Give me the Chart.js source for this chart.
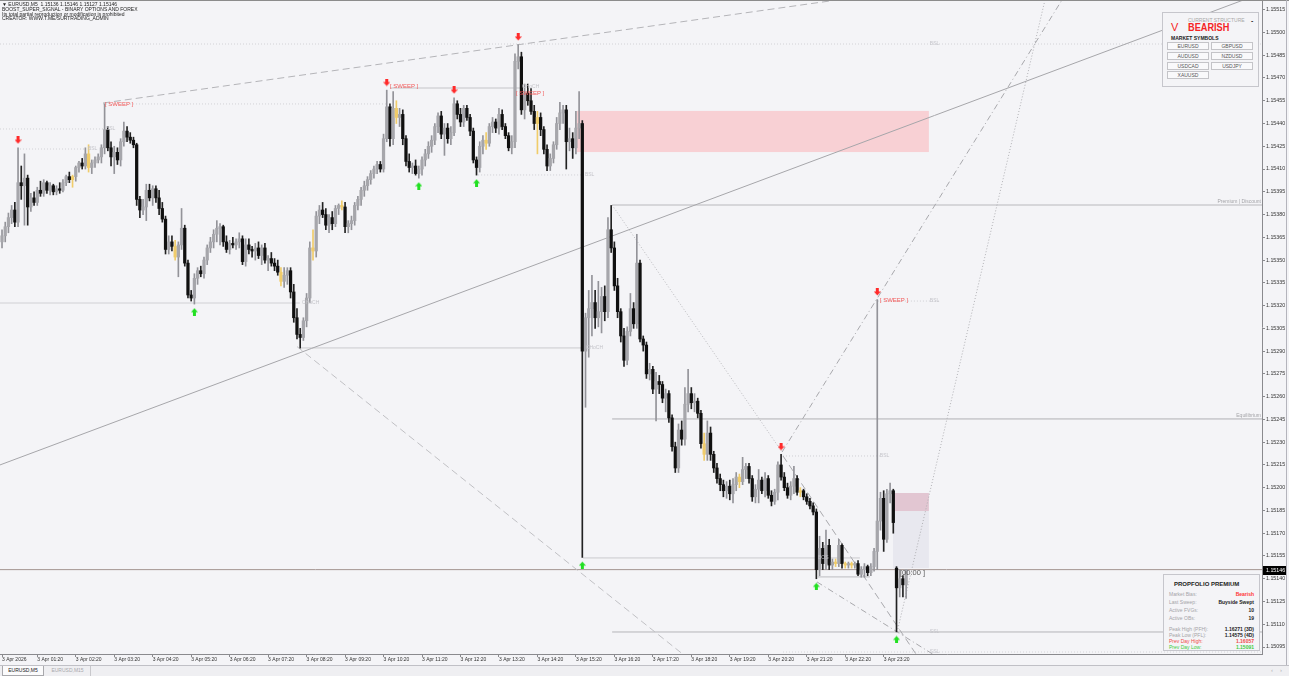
<!DOCTYPE html>
<html>
<head>
<meta charset="utf-8">
<title>EURUSD,M5</title>
<script src="https://cdn.jsdelivr.net/npm/chart.js@4.4.1/dist/chart.umd.min.js"></script>
<style>
  html, body { margin: 0; padding: 0; background: #f4f4f7; }
  #wrap { position: relative; width: 1289px; height: 676px; overflow: hidden; background: #f4f4f7; font-family: "Liberation Sans", Arial, sans-serif; }
  #chart { position: absolute; left: 0; top: 0; }
  .abs { position: absolute; white-space: nowrap; }
  #topline { left: 0; top: 0; width: 1289px; height: 1px; background: #8c8c8c; }
  #rightline { left: 1286px; top: 0; width: 1px; height: 665px; background: #b4b4bc; }
  #info { left: 2px; top: 2px; font-size: 5px; line-height: 4.8px; color: #1e1e1e; }

  #struct { left: 1162px; top: 12px; width: 95px; height: 73px; border: 1px solid #c6c6cc; background: #f4f4f7; }
  #struct .cs { left: 25px; top: 4px; font-size: 5px; color: #a8a8a8; }
  #struct .dash { left: 88px; top: 4px; font-size: 7px; font-weight: bold; color: #333; }
  #struct .v { left: 8px; top: 9px; font-size: 11px; line-height: 11px; color: #f52525; }
  #struct .bear { left: 25px; top: 9px; font-size: 11.5px; line-height: 11.5px; font-weight: bold; color: #f52525; transform: scaleX(0.8); transform-origin: left top; }
  #struct .ms { left: 8px; top: 22px; font-size: 5px; font-weight: bold; color: #222; }
  #struct .btn { width: 42px; height: 8.4px; box-sizing: border-box; border: 1px solid #c4c4c8; background: #f9f9fb; font-size: 5px; line-height: 6.4px; text-align: center; color: #555; }

  #prop { left: 1163px; top: 574px; width: 95px; height: 75px; border: 1px solid #c6c6cc; background: #f4f4f7; }
  #prop .ttl { left: 10px; top: 6px; font-size: 6px; font-weight: bold; color: #222; }
  #prop .row { left: 5px; width: 85px; height: 5px; font-size: 5px; line-height: 5px; }
  #prop .row .k { position: absolute; left: 0; top: 0; color: #a4a4a8; }
  #prop .row .val { position: absolute; right: 0; top: 0; font-weight: bold; color: #222; }

  #tabs { left: 0; top: 665px; width: 1289px; height: 11px; background: #efeff2; border-top: 1px solid #c0c0c6; }
  #tabs .tab { top: 0; height: 10px; box-sizing: border-box; font-size: 5px; line-height: 9px; text-align: center; }
  #tabs .on { left: 2px; width: 42px; border: 1px solid #a8a8ac; border-top: none; background: #fbfbfc; color: #222; }
  #tabs .off { left: 45px; width: 46px; border-right: 1px solid #c8c8cc; color: #a8a8ac; }
  #tabs .nav { top: 1px; font-size: 6px; color: #b0b0b4; }
</style>
</head>
<body>
<div id="wrap">
  <canvas id="chart" width="1289" height="676" style="width:1289px;height:676px"></canvas>
  <div class="abs" id="topline"></div>
  <div class="abs" id="rightline"></div>

  <div class="abs" id="info">▼ EURUSD,M5&nbsp; 1.15136 1.15146 1.15127 1.15146<br>BOOST_SUPER_SIGNAL - BINARY OPTIONS AND FOREX<br>Its total partial reproduction or modification is prohibited<br>CREATOR: WWW.T.ME/SURTRADING_ADMIN</div>

  <div class="abs" id="struct">
    <div class="abs cs">CURRENT STRUCTURE</div>
    <div class="abs dash">-</div>
    <div class="abs v">V</div>
    <div class="abs bear">BEARISH</div>
    <div class="abs ms">MARKET SYMBOLS</div>
    <div class="abs btn" style="left:4px;top:29px">EURUSD</div>
    <div class="abs btn" style="left:48px;top:29px">GBPUSD</div>
    <div class="abs btn" style="left:4px;top:39px">AUDUSD</div>
    <div class="abs btn" style="left:48px;top:39px">NZDUSD</div>
    <div class="abs btn" style="left:4px;top:49px">USDCAD</div>
    <div class="abs btn" style="left:48px;top:49px">USDJPY</div>
    <div class="abs btn" style="left:4px;top:58px">XAUUSD</div>
  </div>

  <div class="abs" id="prop">
    <div class="abs ttl">PROPFOLIO PREMIUM</div>
    <div class="abs row" style="top:16.5px"><span class="k">Market Bias:</span><span class="val" style="color:#ff3434">Bearish</span></div>
    <div class="abs row" style="top:25px"><span class="k">Last Sweep:</span><span class="val">Buyside Swept</span></div>
    <div class="abs row" style="top:32.5px"><span class="k">Active FVGs:</span><span class="val">10</span></div>
    <div class="abs row" style="top:40.5px"><span class="k">Active OBs:</span><span class="val">19</span></div>
    <div class="abs row" style="top:52px"><span class="k">Peak High (PFH):</span><span class="val">1.16271 (3D)</span></div>
    <div class="abs row" style="top:58px"><span class="k">Peak Low (PFL):</span><span class="val">1.14575 (4D)</span></div>
    <div class="abs row" style="top:64px"><span class="k" style="color:#f04848">Prev Day High:</span><span class="val" style="color:#f04848">1.16057</span></div>
    <div class="abs row" style="top:70px"><span class="k" style="color:#3ccc3c">Prev Day Low:</span><span class="val" style="color:#3ccc3c">1.15091</span></div>
  </div>

  <div class="abs" id="tabs">
    <div class="abs tab on">EURUSD,M5</div>
    <div class="abs tab off">EURUSD,M15</div>
    <div class="abs nav" style="left:1271px">‹</div>
    <div class="abs nav" style="left:1280px">›</div>
  </div>
</div>

<script>
// prices are kept as points above 1.15000 (1 point = 0.00001)
const BASE = 1.15, PT = 0.00001;
const toPrice = v => +(BASE + v * PT).toFixed(6);

// bar 0 = 3 Apr 00:00, one bar per 5 minutes; first visible bar is 00:25
const firstBar = 5;

// one line per hour (00:25-00:55 on the first line)
const opens = [
  362,366,372,378,383,375,401,
  399,404,385,391,388,396,394,401,396,399,395,397,
  396,401,405,403,405,411,414,412,420,411,414,416,
  418,424,436,424,418,421,416,428,435,431,429,426,
  390,383,385,396,391,397,391,384,377,357,362,359,
  352,360,371,348,327,325,338,343,341,350,358,362,
  367,371,372,362,357,361,360,362,364,349,360,357,
  356,358,353,358,350,351,348,346,342,336,340,343,
  329,312,301,299,310,325,358,356,379,383,380,373,
  378,374,384,386,385,372,374,376,386,390,396,399,
  403,407,410,413,410,430,451,430,450,444,446,430,
  415,411,412,407,410,416,420,425,429,438,445,433,
  437,430,434,453,446,441,450,444,435,416,411,425,
  429,427,438,441,437,446,438,432,424,428,481,484,
  449,460,455,448,440,444,436,423,412,417,426,440,
  447,449,428,430,424,437,440,290,312,318,322,312,
  316,326,316,370,358,333,316,300,284,303,318,308,
  348,298,294,275,278,265,270,268,259,262,246,227,
  213,238,232,255,262,256,257,249,229,222,236,222,
  213,206,202,198,201,196,202,207,204,212,214,206,
  194,199,205,198,206,195,191,197,215,207,200,195,
  201,206,197,198,194,191,188,184,146,160,150,162,
  149,151,150,162,150,149,150,149,150,143,146,148,
  144,148,158,178,193,166,196,198,147,134,140,136
];
const highs = [
  370,375,381,386,388,424,412,
  420,406,394,395,398,402,403,402,401,400,399,401,
  403,406,408,406,412,415,417,424,426,416,418,420,
  426,453,438,428,425,424,430,441,438,434,431,427,
  392,390,400,400,399,399,396,388,379,366,366,363,
  362,384,373,350,330,341,345,346,352,360,365,370,
  376,374,373,366,363,365,364,368,366,364,364,359,
  361,362,360,361,353,355,351,350,345,345,345,345,
  334,318,305,312,328,362,370,382,386,388,384,380,
  382,386,387,389,388,376,379,388,392,398,402,405,
  409,412,415,415,433,462,453,461,455,450,449,432,
  420,414,416,412,418,423,428,432,440,447,448,440,
  440,438,457,455,450,452,452,446,437,418,428,432,
  434,440,444,443,450,449,440,434,432,486,492,487,
  466,466,463,452,448,447,438,426,420,428,444,454,
  452,452,437,434,448,461,442,315,330,340,330,336,
  332,333,378,386,362,338,318,305,306,328,322,367,
  350,300,296,282,280,276,274,270,265,264,248,230,
  242,244,266,278,266,262,259,251,236,244,240,224,
  216,209,205,204,205,206,210,209,220,216,216,208,
  202,212,207,210,208,198,199,217,222,210,203,204,
  214,208,200,199,196,193,190,186,168,164,172,166,
  153,153,166,163,151,151,151,151,152,148,150,149,
  150,160,324,197,198,199,203,199,148,146,142,146
];
const lows = [
  358,362,368,374,372,372,390,
  373,373,382,386,386,392,392,394,393,393,393,394,
  395,399,401,398,402,408,410,410,408,407,411,414,
  414,420,422,412,407,413,412,425,428,427,424,386,
  378,380,376,389,386,388,380,375,354,354,356,350,
  339,357,346,325,323,321,334,339,338,347,355,358,
  362,360,359,355,354,358,357,358,347,346,354,352,
  350,351,347,348,343,346,343,340,333,332,334,325,
  309,298,292,297,306,322,350,352,374,378,370,368,
  370,372,380,383,368,368,370,373,383,386,392,396,
  400,404,407,408,408,428,425,426,440,438,426,412,
  408,407,406,404,406,412,417,421,426,434,430,419,
  427,426,432,443,438,438,442,432,414,406,408,420,
  423,425,434,434,433,436,430,422,420,424,476,446,
  443,452,446,436,420,432,420,409,409,414,423,436,
  440,410,422,417,420,430,154,253,286,300,305,306,
  302,310,312,355,330,312,296,280,281,300,305,305,
  296,290,272,271,262,244,262,256,250,243,224,210,
  210,228,228,250,252,250,246,226,218,218,218,210,
  203,198,194,193,192,190,198,200,202,206,203,191,
  190,190,196,194,193,188,189,192,205,198,193,192,
  196,195,194,192,189,186,182,140,142,146,146,146,
  146,148,148,147,147,147,147,147,142,141,141,142,
  142,145,146,172,158,164,190,170,105,128,128,127
];
const closes = [
  366,372,378,383,375,401,399,
  404,385,391,388,396,394,401,396,399,395,397,396,
  401,405,403,405,411,414,412,420,411,414,416,418,
  424,436,424,418,421,416,428,435,431,429,426,390,
  383,385,396,391,397,391,384,377,357,362,359,352,
  360,371,348,327,325,338,343,341,350,358,362,367,
  371,372,362,357,361,360,362,364,349,360,357,356,
  358,353,358,350,351,348,346,342,336,340,343,329,
  312,301,299,310,325,358,356,379,383,380,373,378,
  374,384,386,385,372,374,376,386,390,396,399,403,
  407,410,413,410,430,451,430,450,444,446,430,415,
  411,412,407,410,416,420,425,429,438,445,433,437,
  430,434,453,446,441,450,444,435,416,411,425,429,
  427,438,441,437,446,438,432,424,428,481,484,449,
  460,455,448,440,444,436,423,412,417,426,440,447,
  449,428,430,424,437,440,290,312,318,322,312,316,
  326,316,370,358,333,316,300,284,303,318,308,348,
  298,294,275,278,265,270,268,259,262,246,227,213,
  238,232,255,262,256,257,249,229,222,236,222,213,
  206,202,198,201,196,202,207,204,212,214,206,194,
  199,205,198,206,195,191,197,215,207,200,195,201,
  206,197,198,194,191,188,184,146,160,150,162,149,
  151,150,162,150,149,150,149,150,143,146,148,144,
  148,158,178,193,166,196,198,177,134,140,136,146
];
// bars the indicator paints yellow
const markedBars = [27,32,59,92,102,111,128,156,172,224,235,254,265,268,270];

// swing arrows
const swingHighBars = [10,125,146,166,248,278];
const swingLowBars = [65,135,153,186,259,284];

// time axis
const timeTickBars = [5,16,28,40,52,64,76,88,100,112,124,136,148,160,172,184,196,208,220,232,244,256,268,280];
const timeTickLabels = ['3 Apr 2026','3 Apr 01:20','3 Apr 02:20','3 Apr 03:20','3 Apr 04:20','3 Apr 05:20',
  '3 Apr 06:20','3 Apr 07:20','3 Apr 08:20','3 Apr 09:20','3 Apr 10:20','3 Apr 11:20','3 Apr 12:20',
  '3 Apr 13:20','3 Apr 14:20','3 Apr 15:20','3 Apr 16:20','3 Apr 17:20','3 Apr 18:20','3 Apr 19:20',
  '3 Apr 20:20','3 Apr 21:20','3 Apr 22:20','3 Apr 23:20'];
const priceTicks = [1.15095,1.15110,1.15125,1.15140,1.15155,1.15170,1.15185,1.15200,1.15215,1.15230,
  1.15245,1.15260,1.15275,1.15290,1.15305,1.15320,1.15335,1.15350,1.15365,1.15380,1.15395,1.15410,
  1.15425,1.15440,1.15455,1.15470,1.15485,1.15500,1.15515];
const lastPrice = 146;

// drawn objects, as [bar, points]
const trendMain = [[4.37,215],[398,526]];
const trendTop = [[36.5,453.5],[286.6,527.7]];
const trendLow = [[97,293],[219.6,86.5]];
const fallA = [[195.3,386.3],[248.3,223.5]];
const fallB = [[248.6,220.9],[291.3,86.5]];
const fallC = [[259.2,137.9],[298.2,86.5]];
const riseA = [[248.3,223.5],[335.6,521.4]];
const riseB = [[284.2,104.9],[330.3,521.4]];
const levelBSLtop = [[4.37,492.4],[398,492.4]];
const levelSweep1 = [[36.5,452.9],[125.1,452.9]];
const levelSweep2 = [[126,463.4],[166.6,463.4]];
const levelBSL1 = [[4.37,436.4],[36.5,436.4]];
const levelBSL2 = [[10.6,423.2],[30.9,423.2]];
const levelBSL3 = [[153.5,406.1],[186.2,406.1]];
const levelPremium = [[195.3,386.3],[398,386.3]];
const levelBSL4 = [[278.2,323],[297.6,323]];
const levelChoch1 = [[4.37,321.7],[97.9,321.7]];
const levelChoch2 = [[97.9,292.1],[186.2,292.1]];
const levelEquil = [[195.3,245.3],[398,245.3]];
const levelBSL5 = [[248.6,220.9],[278.8,220.9]];
const levelBos = [[186.2,153.7],[272.6,153.7]];
const levelShort = [[259.5,141.2],[275.7,141.2]];
const levelDiscount = [[195.3,104.9],[398,104.9]];
const levelSSL = [[248.6,91.7],[398,91.7]];
const levelLast = [[4.37,lastPrice],[398,lastPrice]];

// zones: bar range and price range
const zoneBars = [[184.3,294.1],[282.9,294.1],[282.9,294.1]];
const zonePrices = [[448.3,421.2],[196.5,184.6],[184.6,147]];
const zoneFill = ['#f8d0d4','#e2c6d2','#e8e8ef'];

// chart notes
const noteText = ['[ SWEEP ]','[ SWEEP ]','[ SWEEP ]','[ SWEEP ]','CHoCH','CHoCH','CHoCH',
  'BSL','BSL','BSL','BSL','BSL','BSL','SSL','SSL','BOS','[00:00 ]'];
const noteBar = [37.1,126,165.3,278.8,167.2,98.6,187.1,37.4,31.8,186.8,278.8,294.4,294.4,294.4,294.4,259.5,285.1];
const notePrice = [452.9,464.7,460.1,323.7,464.1,321.7,292.1,436.4,423.2,406.1,220.9,323,492.4,104.9,91.7,153.7,143.8];

Chart.defaults.font.family = '"Liberation Sans", Arial, sans-serif';

const bars = opens.map((_, k) => firstBar + k);
const isMarked = b => markedBars.includes(b);
const bodyColors = bars.map((b, k) => isMarked(b) ? '#f0cc6a' : closes[k] > opens[k] ? '#a6a6ab' : closes[k] < opens[k] ? '#101010' : '#777');
const wickColors = bars.map((b, k) => isMarked(b) ? '#f0cc6a' : closes[k] >= opens[k] ? '#939399' : '#222');

function makeArrow(color, up) {
  const c = document.createElement('canvas');
  c.width = 7; c.height = 8;
  const g = c.getContext('2d');
  g.fillStyle = color;
  g.beginPath();
  if (up) {
    g.moveTo(3.5, 0.5); g.lineTo(7, 4.5); g.lineTo(0, 4.5); g.closePath();
    g.rect(2, 4, 3, 4);
  } else {
    g.rect(2, 0, 3, 4);
    g.moveTo(0, 3.5); g.lineTo(7, 3.5); g.lineTo(3.5, 7.5); g.closePath();
  }
  g.fill();
  return c;
}

function seg(points, color, dash, order) {
  return {
    type: 'line',
    data: points.map(([b, v]) => ({ x: b, y: toPrice(v) })),
    borderColor: color, borderWidth: 1, borderDash: dash || [],
    pointRadius: 0, fill: false, tension: 0, order: order || 3
  };
}

const DOT = [1, 2], DASH = [7, 4], DASHDOT = [6, 3, 1, 3];

const overlay = {
  id: 'overlay',
  beforeDatasetsDraw(chart) {
    const { ctx, chartArea: a, scales: { x, y } } = chart;
    ctx.save();
    ctx.beginPath(); ctx.rect(a.left, a.top, a.right - a.left, a.bottom - a.top); ctx.clip();
    zoneBars.forEach((zb, k) => {
      const x0 = x.getPixelForValue(zb[0]), x1 = x.getPixelForValue(zb[1]);
      const y0 = y.getPixelForValue(toPrice(zonePrices[k][0])), y1 = y.getPixelForValue(toPrice(zonePrices[k][1]));
      ctx.fillStyle = zoneFill[k];
      ctx.fillRect(x0, y0, x1 - x0, y1 - y0);
    });
    ctx.restore();
  },
  afterDatasetsDraw(chart) {
    const { ctx, chartArea: a, scales: { x, y } } = chart;
    ctx.save();
    ctx.textBaseline = 'middle';
    noteText.forEach((t, k) => {
      const px = x.getPixelForValue(noteBar[k]), py = y.getPixelForValue(toPrice(notePrice[k]));
      if (t.includes('SWEEP')) { ctx.font = '6px "Liberation Sans"'; ctx.fillStyle = '#f25858'; }
      else if (t.includes('00:00')) { ctx.font = '7.5px "Liberation Sans"'; ctx.fillStyle = '#5c5c5c'; }
      else { ctx.font = '5px "Liberation Sans"'; ctx.fillStyle = '#c4c4ca'; }
      ctx.textAlign = 'left';
      ctx.fillText(t, px, py);
    });
    ctx.font = '5px "Liberation Sans"';
    ctx.fillStyle = '#a4a4a8';
    ctx.textAlign = 'right';
    ctx.fillText('Premium | Discount', a.right - 1, y.getPixelForValue(toPrice(levelPremium[0][1])) - 3.5);
    ctx.fillText('Equilibrium', a.right - 1, y.getPixelForValue(toPrice(levelEquil[0][1])) - 3);
    // last price tag on the price scale
    const ly = Math.round(y.getPixelForValue(toPrice(lastPrice)));
    ctx.fillStyle = '#000';
    ctx.fillRect(a.right + 1, ly - 4, 24, 9);
    ctx.fillStyle = '#fff';
    ctx.textAlign = 'left';
    ctx.font = '5.3px "Liberation Sans"';
    ctx.fillText(toPrice(lastPrice).toFixed(5), a.right + 4, ly + 0.5);
    ctx.restore();
  }
};

new Chart(document.getElementById('chart'), {
  type: 'bar',
  data: {
    datasets: [
      {
        label: 'wicks',
        data: bars.map((b, k) => ({ x: b, y: [toPrice(lows[k]), toPrice(highs[k])] })),
        backgroundColor: wickColors, barThickness: 1, grouped: false, order: 2
      },
      {
        label: 'bodies',
        data: bars.map((b, k) => ({ x: b, y: [toPrice(opens[k]), toPrice(closes[k])] })),
        backgroundColor: bodyColors, barThickness: 2.6, minBarLength: 1, grouped: false, order: 1
      },
      seg(trendMain, '#a6a6aa'),
      seg(trendTop, '#b4b4b8', DASH),
      seg(trendLow, '#c0c0c4', DASH),
      seg(fallA, '#b8b8bc', DOT),
      seg(fallB, '#a8a8ac', DASH),
      seg(fallC, '#a8a8ac', DASHDOT),
      seg(riseA, '#a8a8ac', DASHDOT),
      seg(riseB, '#b0b0b4', DOT),
      seg(levelBSLtop, '#d2d2d6', DOT),
      seg(levelSweep1, '#d2d2d6', DOT),
      seg(levelSweep2, '#c4c4c8'),
      seg(levelBSL1, '#d2d2d6', DOT),
      seg(levelBSL2, '#d2d2d6', DOT),
      seg(levelBSL3, '#d0d0d4', DOT),
      seg(levelPremium, '#b8b8bc'),
      seg(levelBSL4, '#d0d0d4', DOT),
      seg(levelChoch1, '#d0d0d4'),
      seg(levelChoch2, '#cacace'),
      seg(levelEquil, '#b0b0b4'),
      seg(levelBSL5, '#cfcfd3', DOT),
      seg(levelBos, '#cacace'),
      seg(levelShort, '#bcbcc0'),
      seg(levelDiscount, '#b4b4b8'),
      seg(levelSSL, '#d6d6da', DOT),
      seg(levelLast, '#a39490', null, 0),
      {
        type: 'line', label: 'swing highs', showLine: false, order: 0,
        data: swingHighBars.map(b => ({ x: b, y: toPrice(highs[b - firstBar] + 5) })),
        pointStyle: makeArrow('#ff2a2a', false), pointRadius: 4
      },
      {
        type: 'line', label: 'swing lows', showLine: false, order: 0,
        data: swingLowBars.map(b => ({ x: b, y: toPrice(lows[b - firstBar] - 5) })),
        pointStyle: makeArrow('#22e022', true), pointRadius: 4
      }
    ]
  },
  options: {
    responsive: false,
    maintainAspectRatio: false,
    devicePixelRatio: 1,
    animation: false,
    events: [],
    layout: { padding: 0, autoPadding: false },
    plugins: { legend: { display: false }, tooltip: { enabled: false } },
    scales: {
      x: {
        type: 'linear', min: 4.37, max: 398, offset: false,
        grid: { display: true, drawOnChartArea: false, tickLength: 3, color: '#8a8a8e', offset: false },
        border: { display: true, color: '#8a8a8e' },
        afterBuildTicks: s => { s.ticks = timeTickBars.map(v => ({ value: v })); },
        afterFit: s => { s.height = 22; s.paddingLeft = 0; s.paddingRight = 0; },
        ticks: {
          autoSkip: false, maxRotation: 0, minRotation: 0, align: 'start', padding: 0,
          color: '#333', font: { size: 5 },
          callback: (v, i) => timeTickLabels[i]
        }
      },
      y: {
        type: 'linear', position: 'right', min: 1.150904, max: 1.155214,
        grid: { display: true, drawOnChartArea: false, tickLength: 3, color: '#8a8a8e' },
        border: { display: true, color: '#8a8a8e' },
        afterBuildTicks: s => { s.ticks = priceTicks.map(v => ({ value: v })); },
        afterFit: s => { s.width = 27; s.paddingTop = 0; s.paddingBottom = 0; },
        ticks: { padding: 1, color: '#333', font: { size: 5.3 }, callback: v => v.toFixed(5) }
      }
    }
  },
  plugins: [overlay]
});
</script>
</body>
</html>
